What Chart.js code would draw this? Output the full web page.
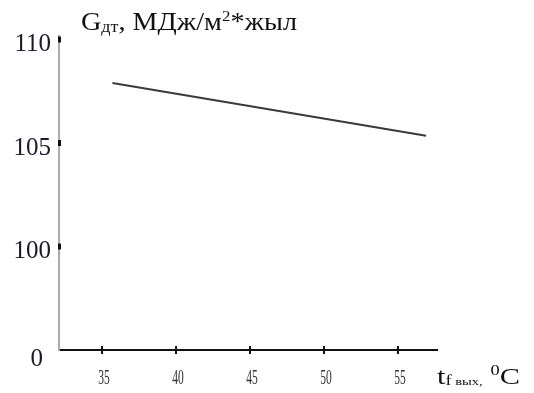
<!DOCTYPE html>
<html>
<head>
<meta charset="utf-8">
<script src="https://cdn.jsdelivr.net/npm/chart.js@4/dist/chart.umd.min.js"></script>
<style>
  html, body { margin: 0; padding: 0; background: #fff; }
  #wrap { width: 534px; height: 393px; position: relative; }
</style>
</head>
<body>
<div id="wrap"><canvas id="c" width="534" height="393"></canvas></div>
<script>
// Outlet temperature, °C (line end points)
const tempOut = [35.7, 56.9];
// Annual heat output, MJ/m² per year
const heatOutput = [107.9, 105.35];
// Axis tick values
const xTicks = [35, 40, 45, 50, 55];
const yTicks = [95, 100, 105, 110];
// The lowest y tick stands for the broken-axis origin
const yTickLabels = { 95: '0', 100: '100', 105: '105', 110: '110' };

const serif = '"Liberation Serif", "Times New Roman", serif';

// Width of a list of text runs
function runsWidth(ctx, runs) {
  let w = 0;
  runs.forEach(r => {
    ctx.font = r.size + 'px ' + serif;
    w += ctx.measureText(r.t).width + (r.gap || 0);
  });
  return w;
}

// Draws rich text runs (normal / sub / sup) from x to x + width, baseline y
function drawRuns(ctx, runs, x, y, width) {
  const k = width / runsWidth(ctx, runs);
  ctx.save();
  ctx.translate(x, y);
  ctx.scale(k, 1);
  let cx = 0;
  runs.forEach(r => {
    ctx.font = r.size + 'px ' + serif;
    ctx.fillText(r.t, cx, r.dy || 0);
    cx += ctx.measureText(r.t).width + (r.gap || 0);
  });
  ctx.restore();
}

const decorPlugin = {
  id: 'decor',
  afterDraw(chart) {
    const ctx = chart.ctx;
    const xs = chart.scales.x, ys = chart.scales.y;
    ctx.save();
    // tick marks crossing the axes
    ctx.fillStyle = '#111';
    xTicks.forEach(v => {
      const px = xs.getPixelForValue(v);
      ctx.fillRect(px - 1, ys.bottom - 4, 2, 8);
    });
    yTicks.slice(1).forEach(v => {
      const py = ys.getPixelForValue(v);
      ctx.fillRect(xs.left - 1, py - 3, 3, 6);
    });
    // y tick labels; the origin label sits a little lower and further left
    ctx.fillStyle = '#1a1a2a';
    ctx.textAlign = 'right';
    ctx.textBaseline = 'middle';
    ctx.font = '25px ' + serif;
    yTicks.forEach(v => {
      const py = ys.getPixelForValue(v);
      const origin = v === yTicks[0];
      ctx.fillText(yTickLabels[v], xs.left - (origin ? 16 : 8), py + (origin ? 9 : 5));
    });
    // narrow x tick labels
    ctx.fillStyle = '#333';
    ctx.textAlign = 'center';
    ctx.font = '21px ' + serif;
    xTicks.forEach(v => {
      const px = xs.getPixelForValue(v) + 2;
      ctx.save();
      ctx.translate(px, ys.bottom + 28);
      ctx.scale(0.55, 1);
      ctx.fillText(String(v), 0, 0);
      ctx.restore();
    });
    // axis titles
    ctx.fillStyle = '#111';
    ctx.textBaseline = 'alphabetic';
    ctx.textAlign = 'left';
    drawRuns(ctx, [
      { t: 'G', size: 25 },
      { t: 'дт', size: 16, dy: 2 },
      { t: ', МДж/м', size: 25 },
      { t: '2', size: 15, dy: -9 },
      { t: '*жыл', size: 25 }
    ], 81, 30, 216);
    drawRuns(ctx, [
      { t: 't', size: 23 },
      { t: 'f', size: 14, dy: 1 },
      { t: ' вых,', size: 11, dy: 1, gap: 6 },
      { t: '0', size: 14, dy: -9 },
      { t: 'C', size: 23 }
    ], 437, 384, 83);
    ctx.restore();
  }
};

new Chart(document.getElementById('c'), {
  type: 'scatter',
  data: {
    datasets: [{
      data: tempOut.map((t, i) => ({ x: t, y: heatOutput[i] })),
      showLine: true,
      borderColor: '#3a3a3a',
      borderWidth: 2,
      pointRadius: 0,
      fill: false
    }]
  },
  options: {
    responsive: false,
    animation: false,
    devicePixelRatio: 1,
    layout: { padding: { left: 0, right: 97, top: 36, bottom: 0 } },
    plugins: { legend: { display: false }, tooltip: { enabled: false } },
    scales: {
      x: {
        type: 'linear',
        min: 32.09,
        max: 57.64,
        afterFit(s) { s.height = 43; },
        afterBuildTicks(s) { s.ticks = xTicks.map(v => ({ value: v })); },
        grid: { display: false, drawTicks: false },
        border: { display: true, color: '#111', width: 2 },
        ticks: { display: false }
      },
      y: {
        type: 'linear',
        min: 95,
        max: 110.17,
        afterFit(s) { s.width = 59; },
        afterBuildTicks(s) { s.ticks = yTicks.map(v => ({ value: v })); },
        grid: { display: false, drawTicks: false },
        border: { display: true, color: '#aaa', width: 2 },
        ticks: { display: false }
      }
    }
  },
  plugins: [decorPlugin]
});
</script>
</body>
</html>
